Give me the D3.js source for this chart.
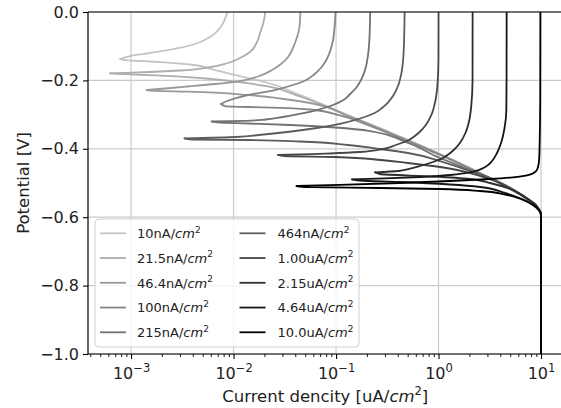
<!DOCTYPE html>
<html><head><meta charset="utf-8">
<script src="https://cdn.jsdelivr.net/npm/d3@7"></script>
<style>body{margin:0;background:#fff} svg{display:block} text{font-family:"DejaVu Sans",sans-serif}</style>
</head><body><svg id="c" width="561" height="408"></svg>
<script>
// ---- data: [current density (uA/cm2), potential (V)] ----
const curve10nA = [[0.00873,0],[0.00817,-0.0234],[0.00738,-0.0468],[0.00590,-0.0731],[0.00421,-0.0936],[0.00281,-0.1067],[0.00153,-0.1199],[0.000977,-0.1287],[0.000782,-0.1374],
[0.000873,-0.1409],[0.001225,-0.1433],[0.002148,-0.1471],[0.003767,-0.1535],[0.00661,-0.1696],[0.01035,-0.1842],[0.01384,-0.1930],[0.02173,-0.2076],[0.04457,-0.2427],[0.1309,-0.3012],[0.5035,-0.3743],[1.034,-0.4152],[2.028,-0.4561],[3.981,-0.5000],[6.237,-0.5322],[7.81,-0.5526],[9.14,-0.5702],[10.0,-0.5906],[10.0,-1.0]];
const curve21nA = [[0.02037,0],[0.01963,-0.0292],[0.01815,-0.0614],[0.01675,-0.0906],[0.01449,-0.1170],[0.01156,-0.1345],[0.00883,-0.1491],[0.00527,-0.1637],[0.003006,-0.1711],[0.001531,-0.1754],[0.000873,-0.1778],[0.000624,-0.1792],
[0.000873,-0.1819],[0.001714,-0.1851],[0.00527,-0.1944],[0.01035,-0.2032],[0.02173,-0.2178],[0.04457,-0.2471],[0.1309,-0.3029],[0.5035,-0.3754],[1.034,-0.4158],[2.028,-0.4567],[3.981,-0.5003],[6.237,-0.5325],[7.81,-0.5529],[9.14,-0.5705],[10.0,-0.5906],[10.0,-1.0]];
const curve46nA = [[0.04487,0],[0.04436,-0.0322],[0.04305,-0.0585],[0.04074,-0.0819],[0.03724,-0.1111],[0.03404,-0.1316],[0.02904,-0.1520],[0.02377,-0.1696],[0.01734,-0.1886],[0.01156,-0.2018],[0.00661,-0.2105],[0.003597,-0.2178],[0.002148,-0.2237],[0.001416,-0.2281],
[0.001714,-0.2304],[0.003597,-0.2330],[0.01384,-0.2427],[0.02844,-0.2529],[0.05572,-0.2661],[0.1309,-0.3041],[0.5035,-0.3766],[1.034,-0.4164],[2.028,-0.4570],[3.981,-0.5006],[6.237,-0.5328],[7.81,-0.5532],[9.14,-0.5708],[10.0,-0.5906],[10.0,-1.0]];
const curve100nA = [[0.09886,0],[0.0962,-0.0526],[0.0935,-0.0819],[0.0883,-0.1111],[0.0804,-0.1404],[0.0711,-0.1637],[0.0619,-0.1813],[0.0512,-0.1988],[0.03802,-0.2135],[0.02541,-0.2281],[0.01384,-0.2427],[0.01057,-0.2515],[0.00865,-0.2602],[0.00755,-0.2690],
[0.00845,-0.2763],[0.01449,-0.2778],[0.02844,-0.2801],[0.05572,-0.2851],[0.1094,-0.3026],[0.2148,-0.3333],[0.5035,-0.3787],[1.034,-0.4181],[2.028,-0.4585],[3.981,-0.5006],[6.237,-0.5330],[7.81,-0.5535],[9.14,-0.5710],[10.0,-0.5906],[10.0,-1.0]];
const curve215nA = [[0.2153,0],[0.2113,-0.0819],[0.2051,-0.1257],[0.1919,-0.1696],[0.1754,-0.1988],[0.1567,-0.2222],[0.1371,-0.2398],[0.1183,-0.2573],[0.0881,-0.2749],[0.0653,-0.2866],[0.0440,-0.2982],[0.03027,-0.3070],[0.02056,-0.3143],[0.01294,-0.3181],[0.00612,-0.3202],
[0.00738,-0.3237],[0.01384,-0.3260],[0.03556,-0.3304],[0.0977,-0.3377],[0.2148,-0.3480],[0.5035,-0.3830],[1.034,-0.4269],[2.028,-0.4620],[3.981,-0.5015],[6.237,-0.5336],[7.81,-0.5538],[9.14,-0.5713],[10.0,-0.5906],[10.0,-1.0]];
const curve464nA = [[0.4667,0],[0.4576,-0.1111],[0.4395,-0.1696],[0.4055,-0.2135],[0.3648,-0.2427],[0.3172,-0.2661],[0.2805,-0.2807],[0.2380,-0.2953],[0.1778,-0.3099],[0.1175,-0.3246],[0.0647,-0.3392],[0.03334,-0.3509],[0.01758,-0.3596],[0.01057,-0.3655],[0.003327,-0.3693],
[0.003936,-0.3728],[0.01384,-0.3743],[0.04457,-0.3787],[0.1309,-0.3889],[0.2685,-0.4006],[0.5035,-0.4123],[1.034,-0.4357],[2.028,-0.4649],[3.557,-0.4912],[5.572,-0.5219],[7.81,-0.5512],[9.35,-0.5717],[10.0,-0.5906],[10.0,-1.0]];
const curve1uA = [[1.0,0],[0.998,-0.1404],[0.9756,-0.2135],[0.9348,-0.2573],[0.8507,-0.3012],[0.7516,-0.3304],[0.6541,-0.3509],[0.5872,-0.3626],[0.5129,-0.3743],[0.3833,-0.3889],[0.2861,-0.4006],[0.1714,-0.4094],[0.0874,-0.4137],[0.04457,-0.4167],[0.02716,-0.4181],
[0.03177,-0.4216],[0.0977,-0.4240],[0.2748,-0.4327],[0.5035,-0.4415],[1.034,-0.4532],[2.028,-0.4708],[3.557,-0.4942],[5.572,-0.5234],[7.81,-0.5526],[9.35,-0.5731],[10.0,-0.5906],[10.0,-1.0]];
const curve2uA = [[2.15,0],[2.147,-0.1988],[2.089,-0.2719],[1.998,-0.3158],[1.830,-0.3538],[1.617,-0.3830],[1.407,-0.4035],[1.263,-0.4152],[1.104,-0.4269],[0.8818,-0.4386],[0.6585,-0.4503],[0.5051,-0.4591],[0.4055,-0.4649],[0.2401,-0.4687],
[0.2685,-0.4737],[0.8838,-0.4810],[2.028,-0.4883],[3.180,-0.5000],[4.985,-0.5175],[6.98,-0.5409],[8.74,-0.5614],[9.56,-0.5789],[10.0,-0.592],[10.0,-1.0]];
const curve4uA = [[4.62,0],[4.61,-0.1988],[4.587,-0.2866],[4.405,-0.3392],[4.072,-0.3830],[3.722,-0.4123],[3.327,-0.4357],[2.907,-0.4518],[2.375,-0.4635],[1.814,-0.4708],[1.295,-0.4766],[0.660,-0.4825],[0.3006,-0.4863],[0.1432,-0.4892],
[0.1714,-0.4927],[0.4211,-0.4971],[1.295,-0.5044],[2.541,-0.5117],[4.455,-0.5292],[6.525,-0.5468],[8.356,-0.5643],[9.56,-0.5789],[10.0,-0.5936],[10.0,-1.0]];
const curve10uA = [[9.85,0],[9.82,-0.2573],[9.71,-0.3743],[9.60,-0.4269],[9.39,-0.4503],[9.04,-0.4635],[8.17,-0.4731],[7.09,-0.4781],[5.33,-0.4833],[3.180,-0.4883],[1.295,-0.4942],[0.4211,-0.5000],[0.1094,-0.5053],[0.0412,-0.5088],
[0.05572,-0.5123],[0.2685,-0.5146],[1.034,-0.5175],[2.541,-0.5234],[4.455,-0.5336],[6.525,-0.5483],[8.356,-0.5643],[9.56,-0.5804],[10.0,-0.595],[10.0,-1.0]];

const seriesLabels = ["10nA","21.5nA","46.4nA","100nA","215nA","464nA","1.00uA","2.15uA","4.64uA","10.0uA"];
const seriesColors = ["#c4c4c4","#adadad","#999999","#868686","#727272","#5c5c5c","#464646","#2e2e2e","#161616","#000000"];
const curves = [curve10nA,curve21nA,curve46nA,curve100nA,curve215nA,curve464nA,curve1uA,curve2uA,curve4uA,curve10uA];
const xDomain = [3.8e-4, 16.2];
const yDomain = [-1.0, 0.0];
const xMajorTicks = [1e-3,1e-2,1e-1,1,10];
const xTickExponents = ["−3","−2","−1","0","1"];
const yTicks = [0,-0.2,-0.4,-0.6,-0.8,-1.0];
const yTickLabels = ["0.0","−0.2","−0.4","−0.6","−0.8","−1.0"];

// ---- layout ----
const W=561,H=408;
const m={l:88,t:12,r:562.5,b:354};
const x=d3.scaleLog().domain(xDomain).range([m.l,m.r]);
const y=d3.scaleLinear().domain(yDomain).range([m.b,m.t]);
const svg=d3.select('#c');
svg.append('rect').attr('width',W).attr('height',H).attr('fill','#fff');
svg.append('defs').append('clipPath').attr('id','clip').append('rect')
  .attr('x',m.l).attr('y',m.t).attr('width',m.r-m.l).attr('height',m.b-m.t);

// grid
const grid=svg.append('g').attr('stroke','#cbcbcb').attr('stroke-width',1.2);
xMajorTicks.forEach(v=>grid.append('line').attr('x1',x(v)).attr('x2',x(v)).attr('y1',m.t).attr('y2',m.b));
yTicks.forEach(v=>grid.append('line').attr('x1',m.l).attr('x2',m.r).attr('y1',y(v)).attr('y2',y(v)));

// curves (each sweep drawn as two branches meeting at the current minimum)
const line=d3.line().x(d=>x(d[0])).y(d=>y(d[1])).curve(d3.curveMonotoneY);
const plot=svg.append('g').attr('clip-path','url(#clip)');
curves.forEach((c,i)=>{
  const tip=d3.minIndex(c,d=>d[0]);
  [c.slice(0,tip+1),c.slice(tip)].forEach(seg=>{
    plot.append('path').attr('d',line(seg)).attr('fill','none')
      .attr('stroke',seriesColors[i]).attr('stroke-width',1.8)
      .attr('stroke-linejoin','round').attr('stroke-linecap','round');
  });
});

// spines (right spine falls outside the picture)
const sp=svg.append('g').attr('stroke','#000').attr('stroke-width',1.2);
sp.append('line').attr('x1',m.l).attr('x2',m.l).attr('y1',m.t).attr('y2',m.b);
sp.append('line').attr('x1',m.l).attr('x2',m.r).attr('y1',m.t).attr('y2',m.t);
sp.append('line').attr('x1',m.l).attr('x2',m.r).attr('y1',m.b).attr('y2',m.b);

// x axis (major)
const gx=svg.append('g').attr('transform',`translate(0,${m.b})`)
  .call(d3.axisBottom(x).tickValues(xMajorTicks).tickSize(5).tickFormat(()=>''));
gx.select('.domain').remove();
gx.selectAll('.tick line').attr('stroke','#000').attr('stroke-width',1.1);
gx.selectAll('.tick text').each(function(d,i){
  const t=d3.select(this).attr('y',24.5).attr('dy',null).attr('fill','#222')
    .attr('font-size',16).attr('font-family','DejaVu Sans');
  t.append('tspan').text('10');
  t.append('tspan').attr('dy',-7).attr('font-size',11.5).text(xTickExponents[i]);
});
// x axis minor
const minor=[];
[1e-4,1e-3,1e-2,1e-1,1,10].forEach(dec=>{for(let k=2;k<=9;k++){const v=dec*k; if(v>=xDomain[0]&&v<=xDomain[1]) minor.push(v);}});
const gxm=svg.append('g').attr('transform',`translate(0,${m.b})`)
  .call(d3.axisBottom(x).tickValues(minor).tickSize(3).tickFormat(()=>''));
gxm.select('.domain').remove();
gxm.selectAll('.tick line').attr('stroke','#000').attr('stroke-width',0.9);

// y axis
const gy=svg.append('g').attr('transform',`translate(${m.l},0)`)
  .call(d3.axisLeft(y).tickValues(yTicks).tickSize(5).tickPadding(4).tickFormat((d,i)=>yTickLabels[i]));
gy.select('.domain').remove();
gy.selectAll('.tick line').attr('stroke','#000').attr('stroke-width',1.1);
gy.selectAll('.tick text').attr('font-size',16).attr('font-family','DejaVu Sans').attr('fill','#222');

// axis labels
const xl=svg.append('text').attr('x',(m.l+m.r)/2).attr('y',402).attr('text-anchor','middle')
  .attr('font-size',16.5).attr('fill','#222');
xl.append('tspan').text('Current dencity [uA/');
xl.append('tspan').attr('font-style','italic').text('cm');
xl.append('tspan').attr('dy',-7).attr('font-size',11.5).text('2');
xl.append('tspan').attr('dy',7).text(']');
svg.append('text').attr('transform',`translate(29,${(m.t+m.b)/2}) rotate(-90)`)
  .attr('text-anchor','middle').attr('font-size',16.5).attr('fill','#222').text('Potential [V]');

// legend
const lg=svg.append('g');
lg.append('rect').attr('x',95).attr('y',219).attr('width',264).attr('height',128).attr('rx',4)
  .attr('fill','#fff').attr('fill-opacity',0.8).attr('stroke','#d0d0d0').attr('stroke-width',1);
seriesLabels.forEach((lab,i)=>{
  const col=Math.floor(i/5), row=i%5;
  const hx=col===0?100:239.5, tx=col===0?137:277.5;
  const ry=233.3+row*24.75;
  lg.append('line').attr('x1',hx).attr('x2',hx+26).attr('y1',ry).attr('y2',ry)
    .attr('stroke',seriesColors[i]).attr('stroke-width',1.8);
  const t=lg.append('text').attr('x',tx).attr('y',ry+4.8).attr('font-size',13).attr('fill','#222');
  t.append('tspan').text(lab+'/');
  t.append('tspan').attr('font-style','italic').text('cm');
  t.append('tspan').attr('dy',-5.5).attr('font-size',9).text('2');
});
</script></body></html>
